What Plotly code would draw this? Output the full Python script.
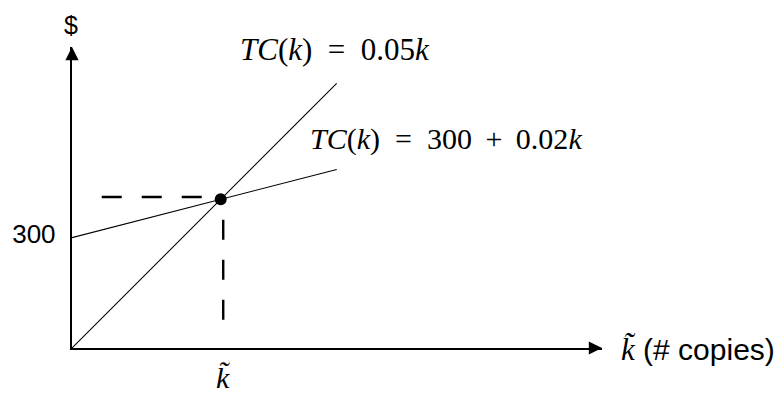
import plotly.graph_objects as go

# ---- data (schematic units: k relative to break-even k~, cost relative to break-even cost) ----
k_line = [0.0, 1.78]
tc_variable = [0.0, 1.78]          # TC(k) = 0.05k
tc_fixed_plus = [0.742, 1.201]     # TC(k) = 300 + 0.02k
breakeven_k = [1.0]
breakeven_tc = [1.0]
ytick_vals = [0.742]
ytick_text = ["300"]
xtick_vals = [1.0]
xtick_text = ["<i>k\u0303</i>"]
label_variable = "<i>TC</i>(<i>k</i>)\u2002=\u20020.05<i>k</i>"
label_fixed = "<i>TC</i>(<i>k</i>)\u2002=\u2002300 \u2009+ \u20090.02<i>k</i>"
x_title = "<span style='font-family:Liberation Serif;font-size:31px'><i>k\u0303</i></span> (# copies)"

# ---- geometry ----
W, H = 778, 393
L, R, T, B = 72, 176, 47, 45
S = 148.7  # px per unit
pw, ph = W - L - R, H - T - B

def px(xp):
    return (xp - L) / pw

def py(yp):
    return (H - B - yp) / ph

fig = go.Figure()

fig.add_trace(go.Scatter(x=k_line, y=tc_variable, mode="lines",
                         line=dict(color="black", width=1.1), hoverinfo="skip"))
fig.add_trace(go.Scatter(x=k_line, y=tc_fixed_plus, mode="lines",
                         line=dict(color="black", width=1.1), hoverinfo="skip"))

# dashed guides to break-even point
bk, bt = breakeven_k[0], breakeven_tc[0]
fig.add_trace(go.Scatter(x=[0.2 * bk, 0.91 * bk], y=[1.015 * bt, 1.015 * bt], mode="lines",
                         line=dict(color="black", width=2.4, dash="20px,20px"), hoverinfo="skip"))
fig.add_trace(go.Scatter(x=[1.017 * bk, 1.017 * bk], y=[0.862 * bt, 0.18 * bt], mode="lines",
                         line=dict(color="black", width=2.4, dash="20px,20px"), hoverinfo="skip"))

fig.add_trace(go.Scatter(x=breakeven_k, y=breakeven_tc, mode="markers",
                         marker=dict(color="black", size=12), hoverinfo="skip"))

serif = "Liberation Serif"
sans = "Liberation Sans"

annotations = [
    # axis arrowheads
    dict(xref="paper", yref="paper", x=1, y=0, ax=-14, ay=0, showarrow=True, text="",
         arrowhead=2, arrowsize=1.1, arrowwidth=2.4, arrowcolor="black"),
    dict(xref="paper", yref="paper", x=0, y=1, ax=0, ay=14, showarrow=True, text="",
         arrowhead=2, arrowsize=1.1, arrowwidth=2.4, arrowcolor="black"),
    dict(xref="paper", yref="paper", x=px(71), y=py(25), text="$", showarrow=False,
         font=dict(family=sans, size=25, color="black"), xanchor="center", yanchor="middle"),
    dict(xref="paper", yref="paper", x=px(619), y=py(349), text=x_title,
         showarrow=False, font=dict(family=sans, size=30, color="black"),
         xanchor="left", yanchor="middle"),
    dict(xref="paper", yref="paper", x=px(238), y=py(50), text=label_variable,
         showarrow=False, font=dict(family=serif, size=31, color="black"),
         xanchor="left", yanchor="middle"),
    dict(xref="paper", yref="paper", x=px(308), y=py(139), text=label_fixed,
         showarrow=False, font=dict(family=serif, size=30, color="black"),
         xanchor="left", yanchor="middle"),
]

fig.update_layout(
    width=W, height=H,
    margin=dict(l=L, r=R, t=T, b=B, pad=0, autoexpand=False),
    paper_bgcolor="white", plot_bgcolor="white",
    showlegend=False,
    annotations=annotations,
    xaxis=dict(range=[0, pw / S], showgrid=False, zeroline=False, showline=True,
               linecolor="black", linewidth=2.4, ticks="", tickvals=xtick_vals,
               ticktext=xtick_text, tickfont=dict(family=serif, size=30, color="black"),
               ticklabelstandoff=2, ticklabelshift=2, automargin=False, fixedrange=True),
    yaxis=dict(range=[0, ph / S], showgrid=False, zeroline=False, showline=True,
               linecolor="black", linewidth=2.4, ticks="", tickvals=ytick_vals,
               ticktext=ytick_text, tickfont=dict(family=sans, size=26, color="black"),
               ticklabelstandoff=9, ticklabelshift=-4, automargin=False, fixedrange=True),
)

fig.write_html("out.html", config={"displayModeBar": False},
               post_script="document.body.style.margin='0px';")
